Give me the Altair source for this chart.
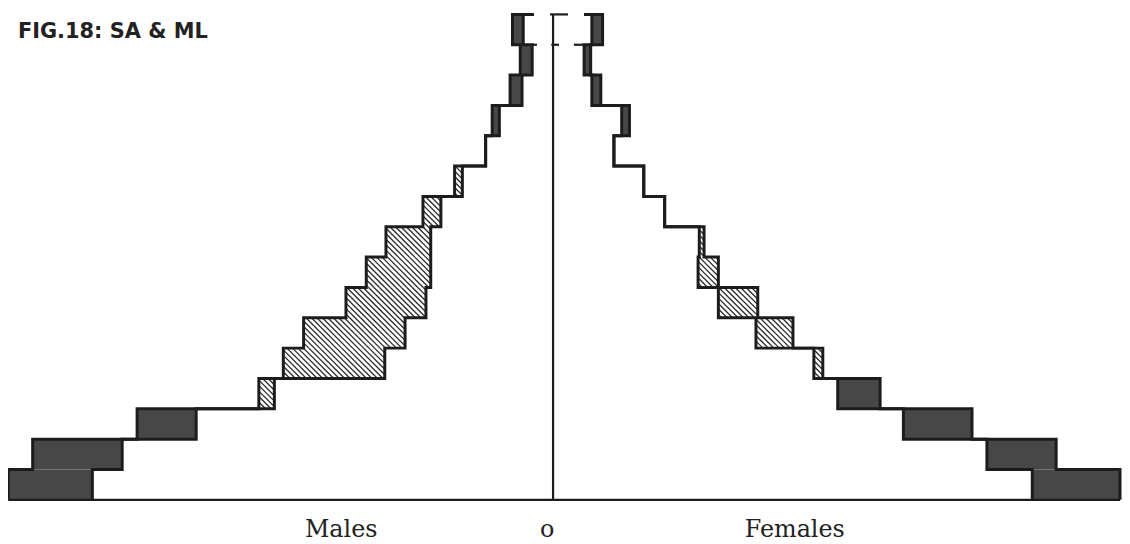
import altair as alt
import pandas as pd

# ---------------- data (units: % of population) ----------------
band_start = list(range(0, 80, 5))          # age bands 0-4 ... 75+
male_a   = [9.13, 8.72, 6.97, 4.67, 2.82, 2.48, 2.13, 2.05, 2.05, 1.88, 1.52, 1.13, 1.02, 0.72, 0.55, 0.68]
male_b   = [7.72, 7.22, 5.98, 4.93, 4.52, 4.18, 3.47, 3.13, 2.80, 2.18, 1.65, 1.13, 0.90, 0.52, 0.35, 0.50]
female_a = [9.50, 8.43, 7.02, 5.48, 4.37, 3.40, 2.77, 2.43, 2.45, 1.87, 1.52, 1.02, 1.28, 0.80, 0.63, 0.83]
female_b = [8.03, 7.27, 5.87, 4.77, 4.52, 4.02, 3.43, 2.77, 2.53, 1.87, 1.52, 1.02, 1.15, 0.65, 0.52, 0.65]

top_age = 80
cap_inner = {"M": 0.32, "F": 0.52}          # inner end of the top closing line
ext_age = 75
ext_inner = {"M": 0.27, "F": 0.35}          # inner end of the line at the top of 70-74
centre_top = [-0.05, 0.25]
centre_tick = [-0.03, 0.10]

side_labels = ["Males", "o", "Females"]
side_label_pos = [-3.55, -0.10, 4.05]
title_text = "FIG.18: SA & ML"

# ---------------- layout ----------------
W, H = 1120, 488
X_DOMAIN = [-548 / 60, 572 / 60]
PX = W / (X_DOMAIN[1] - X_DOMAIN[0])
PY = H / top_age
xs = alt.Scale(domain=X_DOMAIN, nice=False, zero=False)
ys = alt.Scale(domain=[0, top_age], nice=False, zero=False)
INK = "#1c1c1c"
DARK = "#474747"

sides = [("M", -1, male_a, male_b), ("F", 1, female_a, female_b)]

# outlines
rows = []
for side, sign, a, b in sides:
    for pop, vals in (("a", a), ("b", b)):
        k = 0
        for s, v in zip(band_start, vals):
            rows.append(dict(series=side + pop, x=sign * v, y=s, o=k)); k += 1
            rows.append(dict(series=side + pop, x=sign * v, y=s + 5, o=k)); k += 1
        rows.append(dict(series=side + pop, x=sign * cap_inner[side], y=top_age, o=k))
outline = pd.DataFrame(rows)

# fills
dark_rows, hatch_rows = [], []
for side, sign, a, b in sides:
    for s, va, vb in zip(band_start, a, b):
        if va > vb:
            dark_rows.append(dict(x=sign * vb, x2=sign * va, y=s, y2=s + 5))
        elif vb > va:
            hatch_rows.append(dict(x=sign * va, x2=sign * vb, y=s, y2=s + 5))
dark = pd.DataFrame(dark_rows)

# hatch lines ("\" direction), computed in screen space then mapped back to data
SP = 5.5
seg = []
for r in hatch_rows:
    x0 = (min(r["x"], r["x2"]) - X_DOMAIN[0]) * PX
    x1 = (max(r["x"], r["x2"]) - X_DOMAIN[0]) * PX
    y0 = (top_age - r["y2"]) * PY
    y1 = (top_age - r["y"]) * PY
    c = (int((x0 - y1) // SP)) * SP
    while c <= x1 - y0:
        ya = max(y0, x0 - c)
        yb = min(y1, x1 - c)
        if yb - ya > 0.5:
            seg.append(dict(x=(ya + c) / PX + X_DOMAIN[0], y=top_age - ya / PY,
                            x2=(yb + c) / PX + X_DOMAIN[0], y2=top_age - yb / PY))
        c += SP
hatch = pd.DataFrame(seg)

# straight rules: baseline, centre line, small caps
rules = pd.DataFrame([
    dict(x=-male_a[0], x2=female_a[0], y=0, y2=0),
    dict(x=0, x2=0, y=0, y2=top_age),
    dict(x=centre_top[0], x2=centre_top[1], y=top_age, y2=top_age),
    dict(x=centre_tick[0], x2=centre_tick[1], y=ext_age, y2=ext_age),
    dict(x=-male_b[14], x2=-ext_inner["M"], y=ext_age, y2=ext_age),
    dict(x=female_b[14], x2=ext_inner["F"], y=ext_age, y2=ext_age),
])

labels = pd.DataFrame(dict(label=side_labels, x=side_label_pos))
title = pd.DataFrame(dict(t=[title_text]))

dark_layer = alt.Chart(dark).mark_rect(color=DARK).encode(
    x=alt.X("x:Q", scale=xs, axis=None), x2="x2:Q",
    y=alt.Y("y:Q", scale=ys, axis=None), y2="y2:Q")

hatch_layer = alt.Chart(hatch).mark_rule(color="#2a2a2a", strokeWidth=1.3).encode(
    x=alt.X("x:Q", scale=xs, axis=None), x2="x2:Q",
    y=alt.Y("y:Q", scale=ys, axis=None), y2="y2:Q")

rule_layer = alt.Chart(rules).mark_rule(color=INK, strokeWidth=2.2).encode(
    x=alt.X("x:Q", scale=xs, axis=None), x2="x2:Q",
    y=alt.Y("y:Q", scale=ys, axis=None), y2="y2:Q")

line_layer = alt.Chart(outline).mark_line(color=INK, strokeWidth=3, strokeJoin="miter").encode(
    x=alt.X("x:Q", scale=xs, axis=None),
    y=alt.Y("y:Q", scale=ys, axis=None),
    detail="series:N", order="o:Q")

label_layer = alt.Chart(labels).mark_text(
    font="DejaVu Serif", fontSize=24, color="#222222", align="center", baseline="alphabetic"
).encode(x=alt.X("x:Q", scale=xs, axis=None), y=alt.value(525), text="label:N")

title_layer = alt.Chart(title).mark_text(
    font="DejaVu Sans", fontSize=21, fontWeight="bold", color="#222222", align="left", baseline="alphabetic"
).encode(x=alt.value(10), y=alt.value(24), text="t:N")

chart = alt.layer(dark_layer, hatch_layer, rule_layer, line_layer, label_layer, title_layer).properties(
    width=W, height=H,
    padding={"left": 0, "top": 5, "right": 0, "bottom": 48},
    autosize="none",
    background="white",
).configure_view(stroke=None)

chart.save("out.html", embed_options={"renderer": "svg", "actions": False})
